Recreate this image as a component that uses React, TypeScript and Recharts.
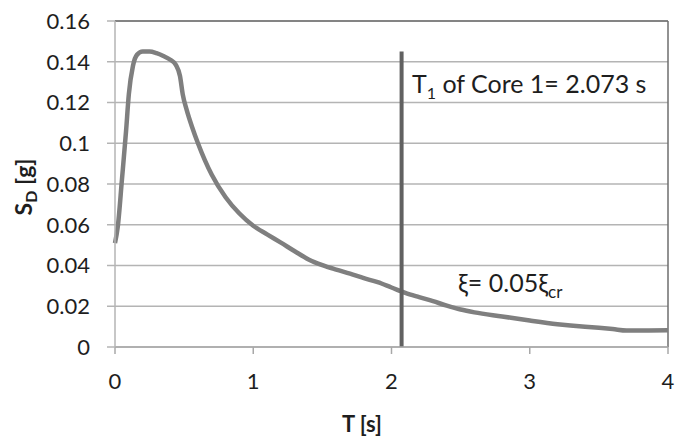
import React from "react";
import {
  CartesianGrid,
  Line,
  LineChart,
  ReferenceLine,
  XAxis,
  YAxis,
} from "recharts";

// response spectrum
const periods = [
  0, 0.02, 0.05, 0.08, 0.1, 0.13, 0.16, 0.2, 0.25, 0.3, 0.35, 0.4, 0.44, 0.47,
  0.49, 0.52, 0.56, 0.6, 0.7, 0.8, 0.9, 1.0, 1.1, 1.2, 1.3, 1.4, 1.5, 1.6, 1.7,
  1.8, 1.9, 2.0, 2.1, 2.2, 2.3, 2.4, 2.5, 2.6, 2.8, 3.0, 3.2, 3.4, 3.5, 3.6,
  3.7, 3.8, 4.0,
];
const spectralDisp = [
  0.051, 0.059, 0.082, 0.106, 0.124, 0.138, 0.1435, 0.145, 0.145, 0.1442,
  0.1428, 0.141, 0.1385, 0.133, 0.124, 0.116, 0.1075, 0.1, 0.0845, 0.0735,
  0.0655, 0.0595, 0.0553, 0.0512, 0.047, 0.043, 0.0402, 0.038, 0.036, 0.0338,
  0.0318, 0.0292, 0.0266, 0.0245, 0.0225, 0.0203, 0.0184, 0.017, 0.015, 0.013,
  0.0112, 0.0099, 0.0094, 0.0088, 0.0081, 0.0081, 0.0082,
];

const xTicks = [0, 1, 2, 3, 4];
const yTicks = [0, 0.02, 0.04, 0.06, 0.08, 0.1, 0.12, 0.14, 0.16];

const coreT1 = 2.073;
const coreLineTop = 0.145;

const data = periods.map((t, i) => ({ t, sd: spectralDisp[i] }));

const FONT = "Lato, 'Open Sans', sans-serif";
const tickStyle = { fontSize: 22, fontFamily: FONT, fill: "#1e1e1e" };

export default function App() {
  return (
    <div style={{ position: "absolute", left: 0, top: 0, width: 688, height: 439, background: "#fff" }}>
      <LineChart
        width={688}
        height={439}
        data={data}
        margin={{ top: 21, right: 20, bottom: 0, left: 0 }}
      >
        <CartesianGrid vertical={false} stroke="#b4b4b4" strokeWidth={1.5} />
        <XAxis
          dataKey="t"
          type="number"
          domain={[0, 4]}
          ticks={xTicks}
          height={92}
          tickSize={7}
          tickMargin={19}
          axisLine={{ stroke: "#a8a8a8", strokeWidth: 1.5 }}
          tickLine={{ stroke: "#a8a8a8", strokeWidth: 1.5 }}
          tick={tickStyle}
        />
        <YAxis
          type="number"
          domain={[0, 0.16]}
          ticks={yTicks}
          width={115}
          tickSize={8}
          tickMargin={17}
          tickFormatter={(v: number) => String(v)}
          axisLine={{ stroke: "#b4b4b4", strokeWidth: 1.5 }}
          tickLine={{ stroke: "#b4b4b4", strokeWidth: 1.5 }}
          tick={tickStyle}
        />
        <ReferenceLine y={0.16} stroke="#6e6e6e" strokeWidth={1.5} />
        <ReferenceLine x={4} stroke="#6e6e6e" strokeWidth={1.5} />
        <Line
          type="monotone"
          dataKey="sd"
          stroke="#7f7f7f"
          strokeWidth={4.5}
          dot={false}
          isAnimationActive={false}
        />
        <ReferenceLine
          segment={[
            { x: coreT1, y: 0 },
            { x: coreT1, y: coreLineTop },
          ]}
          stroke="#616161"
          strokeWidth={4}
        />
      </LineChart>
      <svg
        width={688}
        height={439}
        style={{ position: "absolute", left: 0, top: 0, pointerEvents: "none" }}
        fontFamily={FONT}
        fill="#1e1e1e"
      >
        <text x={412} y={93} fontSize={25}>
          T<tspan dy={6} fontSize={16}>1</tspan>
          <tspan dy={-6}> of Core 1= 2.073 s</tspan>
        </text>
        <text x={458} y={292} fontSize={25}>
          ξ= 0.05ξ<tspan dy={6} fontSize={17}>cr</tspan>
        </text>
        <text
          transform="translate(32,187) rotate(-90)"
          textAnchor="middle"
          fontWeight="bold"
          fontSize={23}
        >
          S<tspan dy={5} fontSize={16}>D</tspan>
          <tspan dy={-5}> [g]</tspan>
        </text>
        <text x={362} y={432} textAnchor="middle" fontWeight="bold" fontSize={22}>
          T [s]
        </text>
      </svg>
    </div>
  );
}
